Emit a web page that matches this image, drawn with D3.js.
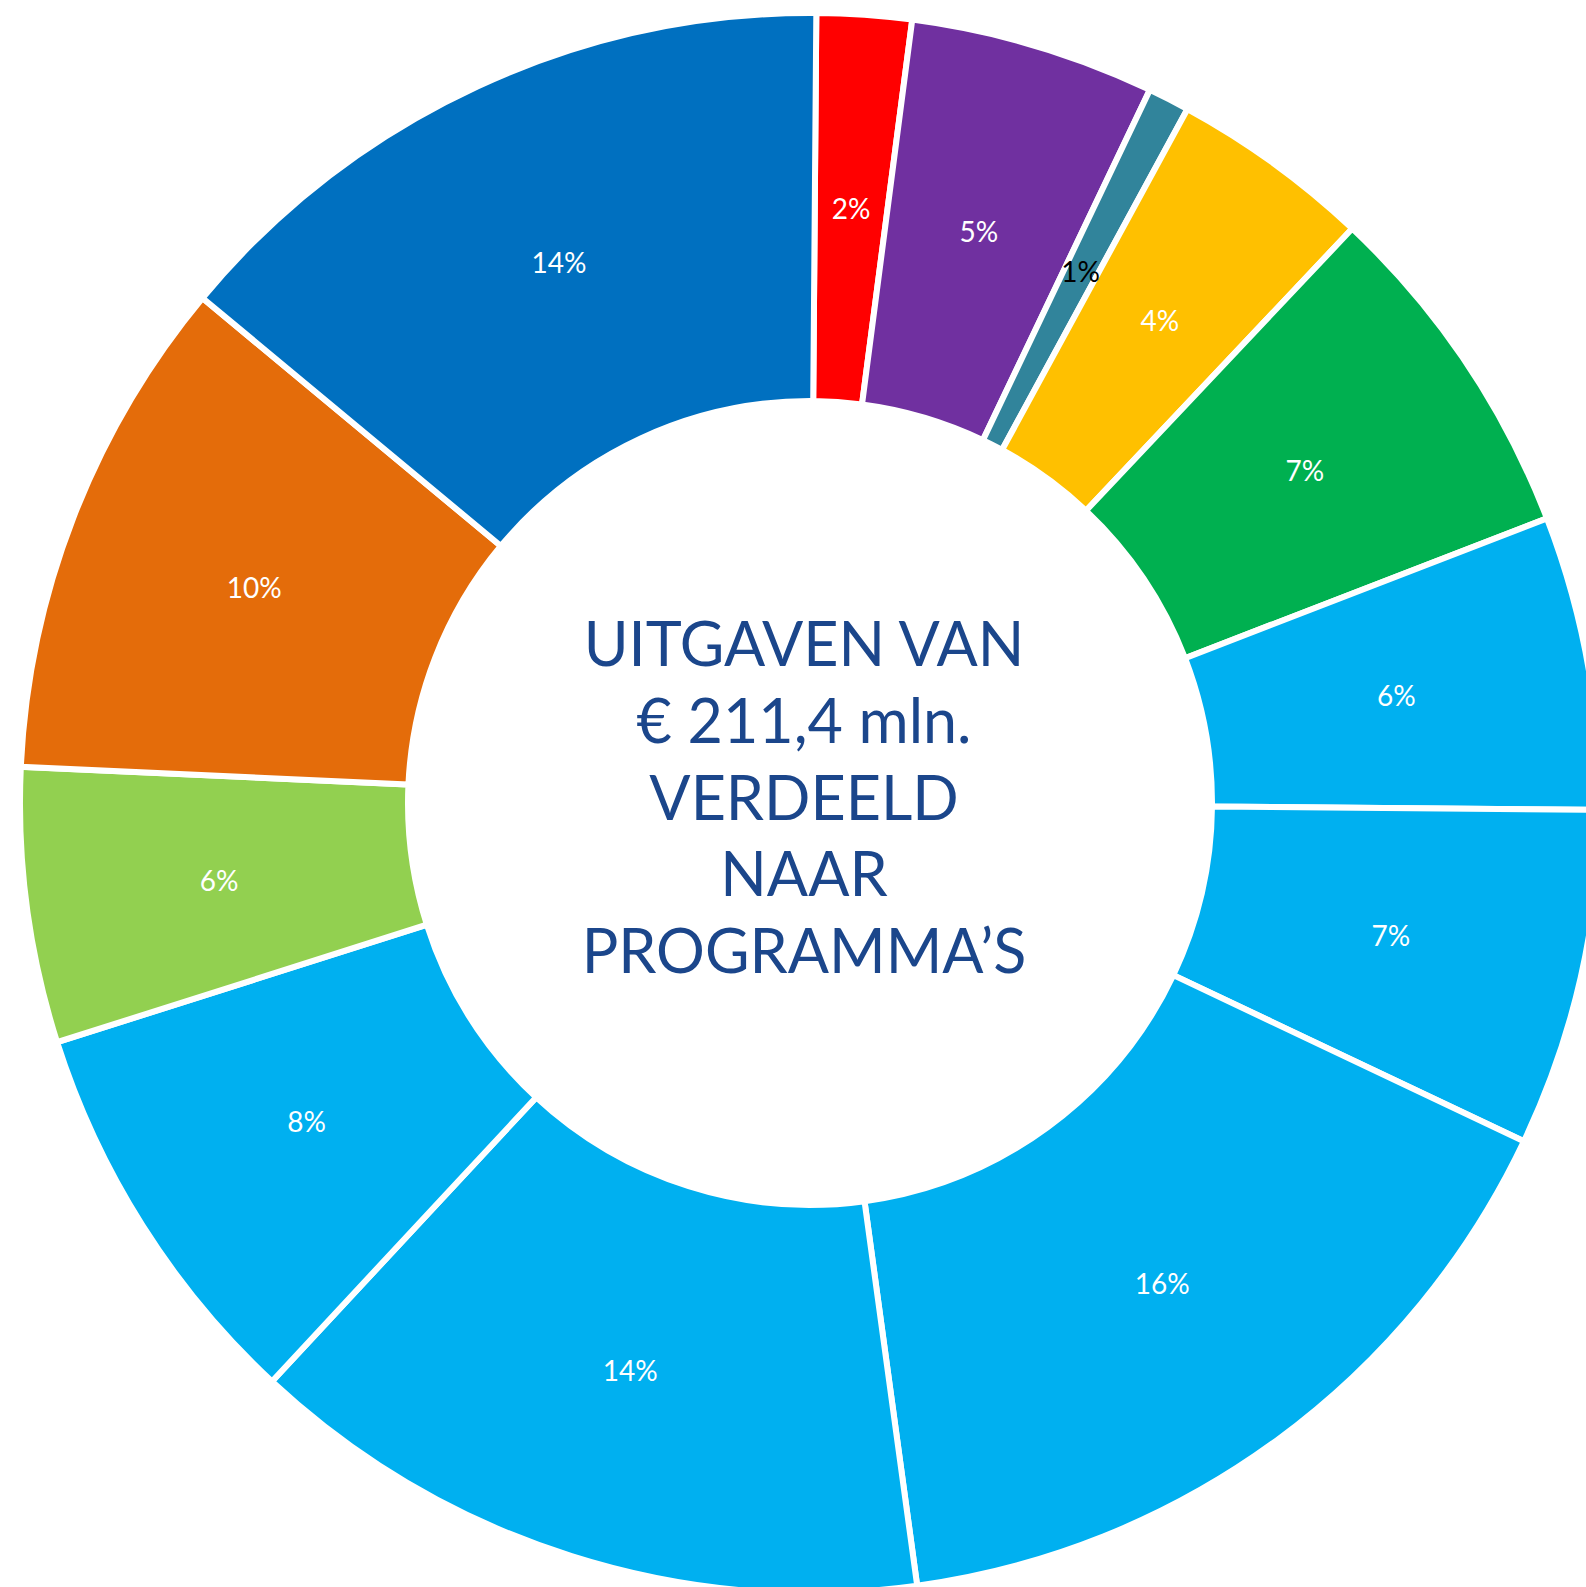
<!DOCTYPE html>
<html>
<head>
<meta charset="utf-8">
<script src="https://cdn.jsdelivr.net/npm/d3@7"></script>
<style>
  body { margin: 0; background: #fff; overflow: hidden; }
</style>
</head>
<body>
<div id="chart"></div>
<script>
// Uitgaven per programma (mln euro), clockwise from 12 o'clock
const programmas = ["P1", "P2", "P3", "P4", "P5", "P6", "P7", "P8", "P9", "P10", "P11", "P12", "P13"];
const bedragen = [4.1, 10.6, 1.8, 8.7, 15.0, 12.7, 14.6, 33.4, 29.8, 17.3, 11.9, 21.8, 29.8];
const kleuren = ["#FF0000", "#7030A0", "#31849B", "#FFC000", "#00B050", "#00B0F0", "#00B0F0",
                 "#00B0F0", "#00B0F0", "#00B0F0", "#92D050", "#E46C0A", "#0070C0"];
const labelKleur = ["#fff", "#fff", "#000", "#fff", "#fff", "#fff", "#fff",
                    "#fff", "#fff", "#fff", "#fff", "#fff", "#fff"];
const titelRegels = ["UITGAVEN VAN", "€ 211,4 mln.", "VERDEELD", "NAAR", "PROGRAMMA\u2019S"];

const w = 1586, h = 1587;
const cx = 810, cy = 803;
const outer = 790, inner = 402;

const data = programmas.map((p, i) => ({ naam: p, waarde: bedragen[i], kleur: kleuren[i], tekst: labelKleur[i] }));
const totaal = d3.sum(data, d => d.waarde);

const svg = d3.select("#chart").append("svg")
    .attr("width", w)
    .attr("height", h);

const g = svg.append("g").attr("transform", `translate(${cx},${cy})`);

const pie = d3.pie()
    .sort(null)
    .value(d => d.waarde)
    .startAngle(0.008)
    .endAngle(2 * Math.PI + 0.008);

const arc = d3.arc().innerRadius(inner).outerRadius(outer);
const labelArc = d3.arc().innerRadius(596).outerRadius(596);

const slices = pie(data);

g.selectAll("path")
    .data(slices)
    .join("path")
    .attr("d", arc)
    .attr("fill", d => d.data.kleur)
    .attr("stroke", "#fff")
    .attr("stroke-width", 6)
    .attr("stroke-linejoin", "miter");

g.selectAll("text.pct")
    .data(slices)
    .join("text")
    .attr("class", "pct")
    .attr("transform", d => `translate(${labelArc.centroid(d)})`)
    .attr("text-anchor", "middle")
    .attr("dy", "0.36em")
    .style("font-family", "Lato, 'Open Sans', sans-serif")
    .style("font-size", "28px")
    .attr("fill", d => d.data.tekst)
    .text(d => Math.round(d.data.waarde / totaal * 100) + "%");

const titel = svg.append("g");
titel.selectAll("text")
    .data(titelRegels)
    .join("text")
    .attr("x", cx - 6)
    .attr("y", (d, i) => 666 + i * 76.8)
    .attr("text-anchor", "middle")
    .style("font-family", "Lato, 'Open Sans', sans-serif")
    .style("font-size", "61px")
    .attr("fill", "#1B468B")
    .text(d => d);
</script>
</body>
</html>
